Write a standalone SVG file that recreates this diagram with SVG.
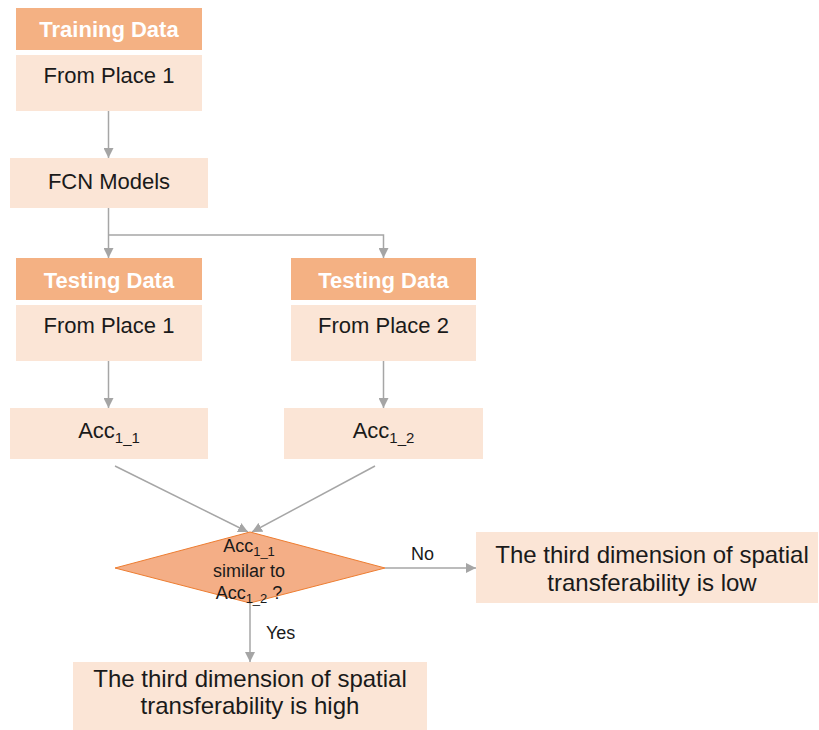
<svg xmlns="http://www.w3.org/2000/svg" width="819" height="730" viewBox="0 0 819 730">
  <style>
    .hdr { fill: #F4B183; }
    .body { fill: #FBE5D6; }
    .hdrtxt { font-family: "Liberation Sans", Arial, sans-serif; font-weight: bold; font-size: 22px; fill: #ffffff; text-anchor: middle; }
    .txt { font-family: "Liberation Sans", Arial, sans-serif; font-size: 22px; fill: #1a1a1a; text-anchor: middle; }
    .big { font-size: 24px; }
    .small { font-family: "Liberation Sans", Arial, sans-serif; font-size: 18px; fill: #1a1a1a; text-anchor: middle; }
    .lbl { font-family: "Liberation Sans", Arial, sans-serif; font-size: 18px; fill: #1a1a1a; }
    .conn { stroke: #A6A6A6; stroke-width: 1.5; fill: none; }
  </style>
  <defs>
    <marker id="arr" viewBox="0 0 10 10" refX="10" refY="5" markerWidth="10" markerHeight="10" orient="auto" markerUnits="userSpaceOnUse">
      <path d="M0,0 L10,5 L0,10 z" fill="#A5A5A5"/>
    </marker>
  </defs>

  <rect width="819" height="730" fill="#ffffff"/>

  <!-- connectors -->
  <g id="connectors">
    <line class="conn" x1="108.5" y1="111" x2="108.5" y2="158" marker-end="url(#arr)"/>
    <line class="conn" x1="108.5" y1="208" x2="108.5" y2="258" marker-end="url(#arr)"/>
    <polyline class="conn" points="108.5,235 383.5,235 383.5,258" marker-end="url(#arr)"/>
    <line class="conn" x1="108.5" y1="361" x2="108.5" y2="408" marker-end="url(#arr)"/>
    <line class="conn" x1="383.5" y1="361" x2="383.5" y2="408" marker-end="url(#arr)"/>
    <line class="conn" x1="115" y1="466" x2="248" y2="532" marker-end="url(#arr)"/>
    <line class="conn" x1="375" y1="466" x2="252" y2="532" marker-end="url(#arr)"/>
    <line class="conn" x1="385" y1="568" x2="476" y2="568" marker-end="url(#arr)"/>
    <line class="conn" x1="250" y1="603" x2="250" y2="662" marker-end="url(#arr)"/>
    <text class="lbl" x="411" y="560">No</text>
    <text class="lbl" x="266" y="639">Yes</text>
  </g>

  <!-- training data -->
  <g id="training">
    <rect class="hdr" x="16" y="8" width="186" height="42"/>
    <rect class="body" x="16" y="55" width="186" height="56"/>
    <text class="hdrtxt" x="109" y="37">Training Data</text>
    <text class="txt" x="109" y="83">From Place 1</text>
  </g>

  <!-- model -->
  <g id="fcn">
    <rect class="body" x="10" y="158" width="198" height="50"/>
    <text class="txt" x="109" y="189">FCN Models</text>
  </g>

  <!-- testing data, place 1 -->
  <g id="testing1">
    <rect class="hdr" x="16" y="258" width="186" height="42"/>
    <rect class="body" x="16" y="305" width="186" height="56"/>
    <text class="hdrtxt" x="109" y="288">Testing Data</text>
    <text class="txt" x="109" y="333">From Place 1</text>
  </g>

  <!-- testing data, place 2 -->
  <g id="testing2">
    <rect class="hdr" x="291" y="258" width="185" height="42"/>
    <rect class="body" x="291" y="305" width="185" height="56"/>
    <text class="hdrtxt" x="383.5" y="288">Testing Data</text>
    <text class="txt" x="383.5" y="333">From Place 2</text>
  </g>

  <!-- accuracies -->
  <g id="acc11">
    <rect class="body" x="10" y="408" width="198" height="51"/>
    <text class="txt" x="109" y="438">Acc<tspan font-size="15" dy="5">1_1</tspan></text>
  </g>
  <g id="acc12">
    <rect class="body" x="284" y="408" width="199" height="51"/>
    <text class="txt" x="383.5" y="438">Acc<tspan font-size="15" dy="5">1_2</tspan></text>
  </g>

  <!-- decision -->
  <g id="decision">
    <polygon points="250,532 385,568 250,603 115,568" fill="#F4AE86" stroke="#ED7D31" stroke-width="1"/>
    <text class="small" x="249" y="552">Acc<tspan font-size="13" dy="4">1_1</tspan></text>
    <text class="small" x="249" y="577">similar to</text>
    <text class="small" x="249" y="599">Acc<tspan font-size="13" dy="4">1_2</tspan><tspan dy="-4"> ?</tspan></text>
  </g>

  <!-- outcomes -->
  <g id="low">
    <rect class="body" x="476" y="532" width="342" height="71"/>
    <text class="txt big" x="652" y="563">The third dimension of spatial</text>
    <text class="txt big" x="652" y="591">transferability is low</text>
  </g>
  <g id="high">
    <rect class="body" x="73" y="662" width="354" height="68"/>
    <text class="txt big" x="250" y="687">The third dimension of spatial</text>
    <text class="txt big" x="250" y="714">transferability is high</text>
  </g>
</svg>
